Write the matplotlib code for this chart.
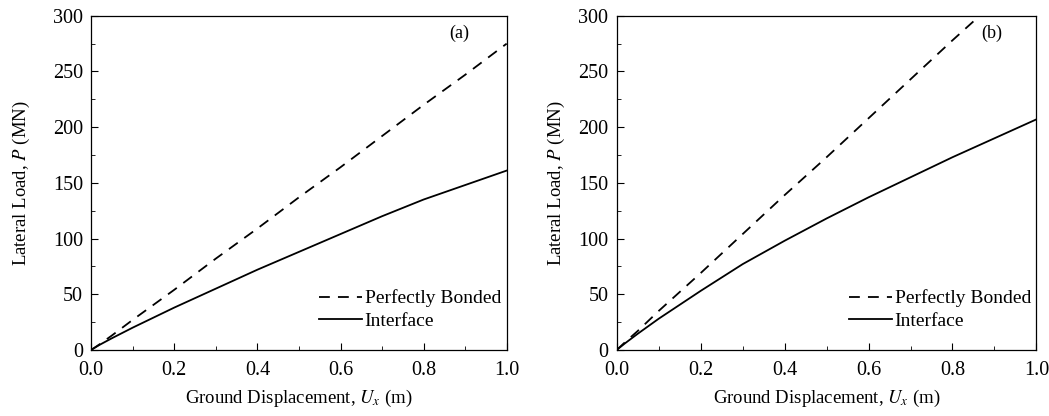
import numpy as np
import matplotlib
matplotlib.use('Agg')
import matplotlib.pyplot as plt
from matplotlib.ticker import MultipleLocator, FormatStrFormatter

plt.rcParams['font.family'] = ['Liberation Serif', 'DejaVu Serif']
plt.rcParams['mathtext.fontset'] = 'stix'

# (a) data
ux_a = [0.0, 0.02, 0.05, 0.1, 0.2, 0.3, 0.4, 0.5, 0.6, 0.7, 0.8, 0.9, 1.0]
bonded_a = [0.0, 5.0, 13.0, 27.0, 54.0, 82.0, 109.0, 137.0, 164.0, 192.0, 220.0, 247.0, 275.0]
interface_a = [0.0, 4.5, 10.5, 20.0, 38.0, 55.0, 72.0, 88.0, 104.0, 120.0, 135.0, 148.0, 161.0]

# (b) data
ux_b = [0.0, 0.02, 0.05, 0.1, 0.2, 0.3, 0.4, 0.5, 0.6, 0.7, 0.8, 0.9, 1.0]
bonded_b = [0.0, 7.0, 17.0, 35.0, 69.0, 104.0, 139.0, 173.0, 208.0, 243.0, 278.0, 312.0, 347.0]
interface_b = [0.0, 6.0, 14.5, 28.0, 53.0, 77.0, 98.0, 118.0, 137.0, 155.0, 173.0, 190.0, 207.0]

panels = [
    (ux_a, bonded_a, interface_a, '(a)', [0.087, 0.159, 0.396, 0.803], 0.887, 15),
    (ux_b, bonded_b, interface_b, '(b)', [0.588, 0.159, 0.400, 0.803], 0.893, 8),
]

fig = plt.figure(figsize=(10.49, 4.16), dpi=100)

for ux, bonded, interface, tag, pos, tag_x, ypad in panels:
    ax = fig.add_axes(pos)
    ax.plot(ux, bonded, color='black', linestyle=(0, (6, 4.5)), linewidth=1.3, label='Perfectly Bonded')
    ax.plot(ux, interface, color='black', linestyle='-', linewidth=1.3, label='Interface')

    ax.set_xlim(0, 1.0)
    ax.set_ylim(0, 300)
    ax.xaxis.set_major_locator(MultipleLocator(0.2))
    ax.xaxis.set_minor_locator(MultipleLocator(0.1))
    ax.yaxis.set_major_locator(MultipleLocator(50))
    ax.yaxis.set_minor_locator(MultipleLocator(25))
    ax.xaxis.set_major_formatter(FormatStrFormatter('%.1f'))
    ax.tick_params(which='both', direction='in', top=False, right=False, labelsize=14.5)
    ax.tick_params(which='major', length=5)
    ax.tick_params(which='minor', length=3)
    ax.tick_params(axis='x', pad=8)
    ax.tick_params(axis='y', pad=6)
    for s in ax.spines.values():
        s.set_linewidth(0.9)

    ax.set_xlabel('Ground Displacement, $U_x$ (m)', fontsize=13.5, labelpad=6)
    ax.set_ylabel('Lateral Load, $P$ (MN)', fontsize=13.5, labelpad=ypad)
    ax.text(tag_x, 0.949, tag, transform=ax.transAxes, fontsize=13, ha='center', va='center')
    ax.legend(loc='lower right', frameon=False, fontsize=14, handlelength=2.2,
              handletextpad=0.15, borderaxespad=0.4, labelspacing=0.25,
              bbox_to_anchor=(1.024, 0.013))

plt.savefig('out.png', dpi=100)
